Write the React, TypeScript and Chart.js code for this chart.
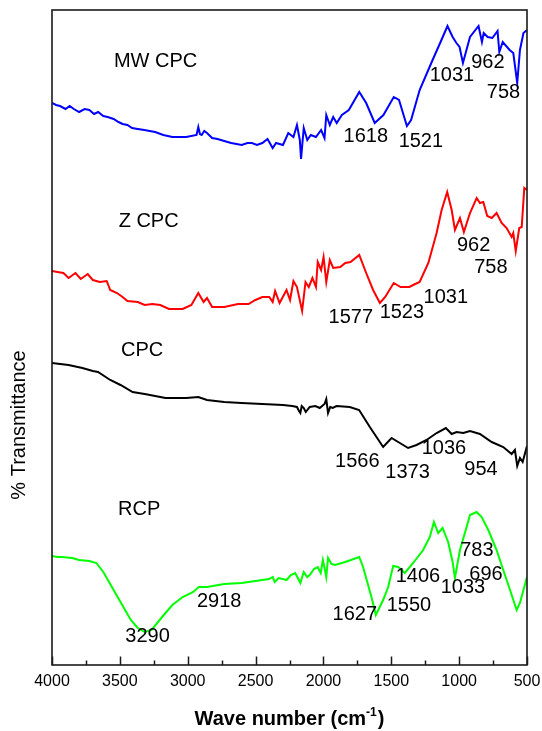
import React, { useEffect, useRef } from 'react';
import { Chart, registerables } from 'chart.js';

Chart.register(...registerables);

const FONT = '"Liberation Sans", Arial, Helvetica, sans-serif';

// X axis (wavenumber, cm-1), reversed
const xTickValues = [4000, 3500, 3000, 2500, 2000, 1500, 1000, 500];
const xMinorTickValues = [3750, 3250, 2750, 2250, 1750, 1250, 750];

// MW CPC (blue) — offset transmittance (arbitrary units)
const mwWn = [4000,3970,3941,3900,3870,3839,3800,3760,3725,3690,3660,3622,3590,3546,3510,3480,3444,3410,3368,3320,3280,3240,3180,3113,3060,3011,2935,2922,2910,2897,2878,2858,2820,2780,2731,2680,2640,2603,2560,2527,2490,2450,2412,2374,2349,2298,2259,2221,2195,2174,2165,2145,2119,2093,2055,2017,1992,1979,1953,1928,1902,1864,1813,1736,1685,1622,1558,1482,1443,1385,1354,1291,1202,1137,1086,1048,1020,997,972,920,857,832,819,790,755,717,704,679,628,601,572,552,526,500];
const mwT = [562,560,559,556,559,556,553,556,555,551,553,549,548,546,543,541,540,537,536,535,534,533,530,528,528,528,530,538,531,530,534,532,527,526,524,522,521,520,522,522,520,522,526,517,522,520,532,528,540,525,506,537,525,530,528,535,527,550,540,548,542,550,555,573,562,542,550,568,565,539,545,575,603,623,639,628,622,618,602,628,639,623,632,628,627,634,613,623,615,612,582,615,632,635];

// Z CPC (red)
const zWn = [4000,3960,3916,3878,3827,3788,3737,3699,3648,3597,3571,3521,3480,3444,3368,3317,3260,3202,3138,3037,2973,2922,2883,2858,2820,2731,2629,2552,2501,2450,2399,2374,2356,2323,2272,2246,2221,2195,2157,2132,2108,2081,2055,2042,2017,1999,1979,1953,1928,1876,1839,1800,1736,1685,1634,1584,1545,1482,1431,1367,1339,1291,1227,1166,1129,1088,1055,1031,994,965,920,871,847,822,793,760,724,687,650,613,601,583,557,539,520,500];
const zT = [394,393,392,387,392,386,391,385,383,384,375,372,368,364,363,360,361,360,356,356,360,372,363,367,358,358,361,361,365,368,368,363,374,362,375,365,384,378,354,383,378,387,378,403,395,408,383,405,397,398,402,403,410,392,375,362,368,382,378,378,380,383,402,432,455,473,455,435,447,433,452,467,462,463,449,447,452,442,437,428,432,414,437,438,477,475];

// CPC (black)
const cpcWn = [4000,3940,3878,3776,3699,3661,3571,3495,3406,3317,3240,3164,3011,2922,2858,2731,2603,2450,2298,2230,2195,2180,2170,2160,2145,2130,2101,2060,2027,1992,1979,1966,1950,1931,1904,1806,1737,1658,1560,1498,1449,1376,1314,1240,1166,1098,1055,1019,970,920,847,760,675,613,589,572,552,532,500];
const cpcT = [302,301,300,297,294,293,285,280,273,271,269,267,267,268,265,263,262,261,260,259,258,254,252,259,257,253,258,259,257,261,266,252,258,257,259,258,255,238,218,227,223,217,220,225,232,237,231,233,232,234,231,223,218,211,215,199,207,203,219];

// RCP (green)
const rcpWn = [4000,3960,3928,3852,3801,3725,3673,3622,3546,3470,3419,3368,3317,3266,3189,3113,3037,2960,2918,2858,2731,2603,2450,2400,2374,2359,2330,2300,2272,2240,2208,2185,2170,2145,2120,2101,2070,2042,2020,2004,1990,1979,1966,1940,1915,1839,1736,1708,1646,1614,1560,1523,1486,1449,1400,1339,1265,1216,1186,1154,1122,1081,1048,1031,994,945,920,871,834,785,724,675,625,576,552,532,500];
const rcpT = [109,108,108,107,105,104,102,93,75,57,45,37,33,35,48,60,68,73,78,78,81,82,85,86,88,83,87,86,85,90,92,86,82,93,88,90,96,98,92,105,96,88,107,101,100,103,108,98,68,50,65,78,99,98,92,102,115,128,143,132,137,123,103,87,115,138,150,153,148,135,115,95,75,55,62,72,88];

// Text labels placed in data coordinates (text, wavenumber, value)
const labelText = ['MW CPC','1618','1521','1031','962','758','Z CPC','962','758','1031','1577','1523','CPC','1566','1373','1036','954','RCP','3290','2918','1627','1550','1406','1033','783','696'];
const labelWn = [3237,1688,1282,1053,788,673,3288,893,766,1098,1798,1422,3336,1750,1380,1112,839,3358,3296,2768,1769,1370,1304,972,869,802];
const labelT = [605,530,525,591,604,574,445,421,399,369,349,354,316,205,194,218,197,157,30,65,52,61,90,79,116,92];

const yTitle = '% Transmittance';
const xTitleMain = 'Wave number (cm';
const xTitleSup = '-1';
const xTitleEnd = ')';

export default function App() {
  const ref = useRef<HTMLCanvasElement | null>(null);

  useEffect(() => {
    document.body.style.margin = '0';
    const canvas = ref.current;
    if (!canvas) return;
    const pts = (xs: number[], ys: number[]) => xs.map((x, i) => ({ x, y: ys[i] }));

    const decor = {
      id: 'decor',
      afterDraw(chart: any) {
        const { ctx, chartArea: a, scales } = chart;
        const xs = scales.x;
        const ys = scales.y;
        ctx.save();
        // frame
        ctx.strokeStyle = '#1a1a1a';
        ctx.lineWidth = 1.6;
        ctx.strokeRect(a.left, a.top, a.right - a.left, a.bottom - a.top);
        // inward ticks
        ctx.lineWidth = 1.5;
        ctx.beginPath();
        xTickValues.forEach((v) => {
          const px = Math.round(xs.getPixelForValue(v)) + 0.5;
          ctx.moveTo(px, a.bottom);
          ctx.lineTo(px, a.bottom - 8.5);
        });
        xMinorTickValues.forEach((v) => {
          const px = Math.round(xs.getPixelForValue(v)) + 0.5;
          ctx.moveTo(px, a.bottom);
          ctx.lineTo(px, a.bottom - 4.5);
        });
        ctx.stroke();

        // annotations
        ctx.fillStyle = '#000';
        ctx.font = `20px ${FONT}`;
        ctx.textAlign = 'center';
        ctx.textBaseline = 'alphabetic';
        labelText.forEach((t, i) => {
          ctx.fillText(t, xs.getPixelForValue(labelWn[i]), ys.getPixelForValue(labelT[i]) + 7);
        });

        // y title (rotated)
        ctx.save();
        ctx.translate(25, ys.getPixelForValue(240));
        ctx.rotate(-Math.PI / 2);
        ctx.font = `20px ${FONT}`;
        ctx.textAlign = 'center';
        ctx.fillText(yTitle, 0, 0);
        ctx.restore();

        // x title with superscript
        const boldMain = `bold 20px ${FONT}`;
        const boldSup = `bold 12px ${FONT}`;
        ctx.font = boldMain;
        const w1 = ctx.measureText(xTitleMain).width;
        const w3 = ctx.measureText(xTitleEnd).width;
        ctx.font = boldSup;
        const w2 = ctx.measureText(xTitleSup).width;
        const total = w1 + w2 + w3 + 1;
        let x0 = (a.left + a.right) / 2 - total / 2;
        const base = 725;
        ctx.textAlign = 'left';
        ctx.font = boldMain;
        ctx.fillText(xTitleMain, x0, base);
        x0 += w1;
        ctx.font = boldSup;
        ctx.fillText(xTitleSup, x0, base - 9);
        x0 += w2 + 1;
        ctx.font = boldMain;
        ctx.fillText(xTitleEnd, x0, base);
        ctx.restore();
      },
    };

    const chart = new Chart(canvas, {
      type: 'line',
      data: {
        datasets: [
          { label: 'MW CPC', data: pts(mwWn, mwT), borderColor: '#0000ff' },
          { label: 'Z CPC', data: pts(zWn, zT), borderColor: '#ff0000' },
          { label: 'CPC', data: pts(cpcWn, cpcT), borderColor: '#000000' },
          { label: 'RCP', data: pts(rcpWn, rcpT), borderColor: '#00ff00' },
        ],
      },
      options: {
        responsive: false,
        animation: false,
        devicePixelRatio: 1,
        layout: { padding: { top: 10, right: 15, left: 52, bottom: 0 } },
        plugins: { legend: { display: false }, tooltip: { enabled: false } },
        elements: {
          point: { radius: 0 },
          line: { borderWidth: 2, tension: 0, fill: false },
        },
        scales: {
          x: {
            type: 'linear',
            reverse: true,
            min: 500,
            max: 4000,
            afterBuildTicks: (s: any) => {
              s.ticks = xTickValues.map((v) => ({ value: v }));
            },
            ticks: {
              font: { family: FONT, size: 16 },
              color: '#000',
              padding: 7,
              maxRotation: 0,
              autoSkip: false,
              callback: (v: any) => String(v),
            },
            grid: { display: false, drawTicks: false },
            border: { display: false },
            afterFit: (s: any) => {
              s.height = 66;
              s.paddingLeft = 0;
              s.paddingRight = 0;
            },
          },
          y: { display: false, min: 0, max: 655 },
        },
      },
      plugins: [decor],
    });
    return () => chart.destroy();
  }, []);

  return (
    <div style={{ width: 542, height: 731, background: '#fff' }}>
      <canvas ref={ref} width={542} height={731} style={{ display: 'block' }} />
    </div>
  );
}
